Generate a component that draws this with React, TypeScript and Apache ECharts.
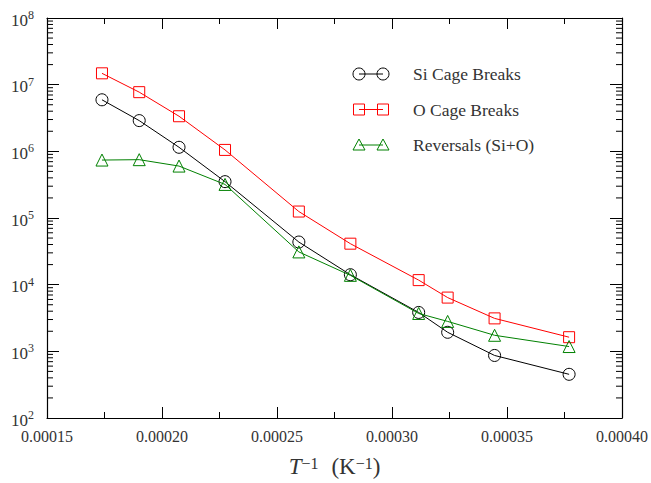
import React, { useEffect, useRef } from "react";
import * as echarts from "echarts";

// 1/T values (K^-1)
const xValues = [0.0001739, 0.0001901, 0.0002074, 0.0002274, 0.0002595, 0.0002819, 0.0003116, 0.0003242, 0.0003446, 0.000377];
const siCage = [5.93e6, 2.89e6, 1.15e6, 3.51e5, 4.36e4, 1.41e4, 3.83e3, 1.93e3, 867, 452];
const oCage = [1.48e7, 7.72e6, 3.36e6, 1.05e6, 1.25e5, 4.12e4, 1.17e4, 6.4e3, 3.12e3, 1.63e3];
const reversals = [7.4e5, 7.5e5, 6.01e5, 3.19e5, 3.1e4, 1.38e4, 3.7e3, 2.81e3, 1.74e3, 1.18e3];

const seriesNames = ["Si Cage Breaks", "O Cage Breaks", "Reversals (Si+O)"];
const seriesColors = ["#000000", "#ff0000", "#008000"];
const seriesSymbols = ["circle", "rect", "triangle"];

const X_MIN = 0.00015;
const X_MAX = 0.0004;
const X_STEP = 0.00005;
const Y_MIN = 1e2;
const Y_MAX = 1e8;

const FONT = "'Liberation Serif', 'Times New Roman', serif";

const minorLogValues: number[] = [];
for (let d = 2; d < 8; d++) {
  for (let m = 2; m <= 9; m++) minorLogValues.push(m * Math.pow(10, d));
}

export default function App() {
  const ref = useRef<HTMLDivElement>(null);
  useEffect(() => {
    if (!ref.current) return;
    const chart = echarts.init(ref.current, undefined, { renderer: "svg" });
    const pair = (ys: number[]) => xValues.map((x, i) => [x, ys[i]]);
    const allY = [siCage, oCage, reversals];
    const symSize = [12, 11, 12];

    const lineSeries = allY.map((ys, i) => ({
      type: "line",
      name: seriesNames[i],
      data: pair(ys),
      symbol: seriesSymbols[i],
      symbolSize: symSize[i],
      showSymbol: true,
      lineStyle: { color: seriesColors[i], width: 1 },
      itemStyle: { color: "transparent", borderColor: seriesColors[i], borderWidth: 1 },
      z: 3 + i,
    }));

    const legendRows = seriesNames.map((name, i) => {
      const y = 74 + i * 35.5;
      const c = seriesColors[i];
      const mk = (cx: number) => {
        if (i === 0) return { type: "circle", shape: { cx, cy: y, r: 6 }, style: { fill: "none", stroke: c, lineWidth: 1 } };
        if (i === 1) return { type: "rect", shape: { x: cx - 5.5, y: y - 5.5, width: 11, height: 11 }, style: { fill: "none", stroke: c, lineWidth: 1 } };
        return { type: "polygon", shape: { points: [[cx, y - 6], [cx - 6, y + 5], [cx + 6, y + 5]] }, style: { fill: "none", stroke: c, lineWidth: 1 } };
      };
      return {
        type: "group",
        children: [
          { type: "line", shape: { x1: 359, y1: y, x2: 383, y2: y }, style: { stroke: c, lineWidth: 1 } },
          mk(359),
          mk(383),
          { type: "text", x: 413, y, style: { text: name, font: `17.5px ${FONT}`, fill: "#333", verticalAlign: "middle", textAlign: "left" } },
        ],
      };
    });

    chart.setOption({
      animation: false,
      backgroundColor: "#ffffff",
      grid: { left: 47, right: 28, top: 18, bottom: 62, containLabel: false },
      xAxis: [
        {
          type: "value",
          min: X_MIN,
          max: X_MAX,
          interval: X_STEP,
          position: "bottom",
          axisLine: { show: true, lineStyle: { color: "#000", width: 1.2 } },
          axisTick: { show: true, inside: true, length: 11, lineStyle: { color: "#000" } },
          minorTick: { show: true, splitNumber: 2, length: 6, lineStyle: { color: "#000" } },
          splitLine: { show: false },
          axisLabel: {
            margin: 10,
            color: "#333",
            fontFamily: FONT,
            fontSize: 16,
            formatter: (v: number) => v.toFixed(5),
          },
          name: "{i|T}{s|−1}{g| }{n|(K}{s|−1}{n|)}",
          nameLocation: "middle",
          nameGap: 37,
          nameTextStyle: {
            color: "#333",
            rich: {
              i: { fontFamily: FONT, fontStyle: "italic", fontSize: 23, color: "#333" },
              n: { fontFamily: FONT, fontSize: 23, color: "#333" },
              g: { fontFamily: FONT, fontSize: 23, width: 13 },
              s: { fontFamily: FONT, fontSize: 16, color: "#333", verticalAlign: "top" },
            },
          },
        },
        {
          type: "value",
          min: X_MIN,
          max: X_MAX,
          interval: X_STEP,
          position: "top",
          axisLine: { show: true, lineStyle: { color: "#000", width: 1.2 } },
          axisTick: { show: true, inside: true, length: 11, lineStyle: { color: "#000" } },
          minorTick: { show: true, splitNumber: 2, length: 6, lineStyle: { color: "#000" } },
          splitLine: { show: false },
          axisLabel: { show: false },
        },
      ],
      yAxis: [
        {
          type: "log",
          logBase: 10,
          min: Y_MIN,
          max: Y_MAX,
          splitNumber: 6,
          position: "left",
          axisLine: { show: true, lineStyle: { color: "#000", width: 1.2 } },
          axisTick: { show: true, inside: true, length: 12, lineStyle: { color: "#000" } },
          splitLine: { show: false },
          axisLabel: {
            margin: 13,
            color: "#333",
            formatter: (v: number) => `{b|10}{s|${Math.round(Math.log10(v))}}`,
            rich: {
              b: { fontFamily: FONT, fontSize: 17, color: "#333", lineHeight: 18, padding: [4, 0, 0, 0] },
              s: { fontFamily: FONT, fontSize: 12, color: "#333", verticalAlign: "top", lineHeight: 18 },
            },
          },
        },
        {
          type: "log",
          logBase: 10,
          min: Y_MIN,
          max: Y_MAX,
          splitNumber: 6,
          position: "right",
          axisLine: { show: true, lineStyle: { color: "#000", width: 1.2 } },
          axisTick: { show: true, inside: true, length: 12, lineStyle: { color: "#000" } },
          splitLine: { show: false },
          axisLabel: { show: false },
        },
      ],
      series: [
        ...lineSeries,
        {
          type: "custom",
          name: "minorTicks",
          silent: true,
          clip: false,
          data: minorLogValues.map((v) => [X_MIN, v]),
          renderItem: (params: any, api: any) => {
            const v = api.value(1);
            const pl = api.coord([X_MIN, v]);
            const pr = api.coord([X_MAX, v]);
            return {
              type: "group",
              children: [
                { type: "line", shape: { x1: pl[0], y1: pl[1], x2: pl[0] + 6, y2: pl[1] }, style: { stroke: "#000", lineWidth: 1 } },
                { type: "line", shape: { x1: pr[0], y1: pr[1], x2: pr[0] - 6, y2: pr[1] }, style: { stroke: "#000", lineWidth: 1 } },
              ],
            };
          },
          z: 1,
        },
      ],
      graphic: legendRows,
    });
    return () => chart.dispose();
  }, []);
  return <div ref={ref} style={{ width: 651, height: 483, position: "absolute", left: 0, top: 0 }} />;
}
